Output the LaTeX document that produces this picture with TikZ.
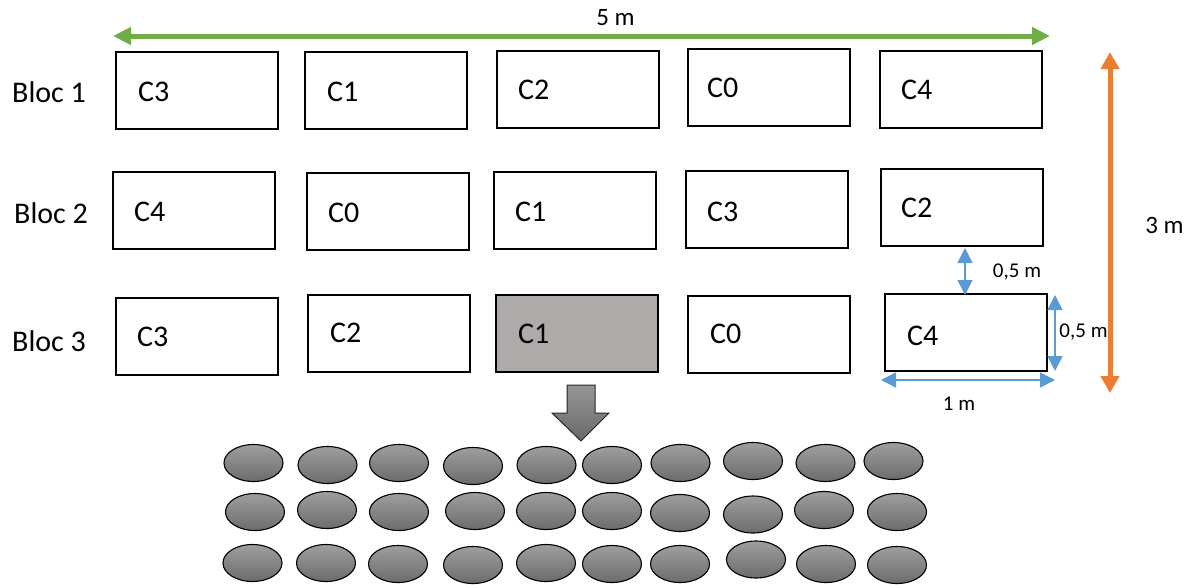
\documentclass[tikz,border=0pt]{standalone}
\usepackage{fontspec}
\setmainfont{Carlito}
\usetikzlibrary{arrows.meta,calc,shapes.geometric}
\definecolor{dgreen}{RGB}{112,173,71}
\definecolor{dorange}{RGB}{237,125,49}
\definecolor{dblue}{RGB}{91,155,213}
\definecolor{cellgray}{RGB}{174,170,169}
\tikzset{
  cell/.style={draw=black, line width=2pt, minimum width=162pt, minimum height=77pt, inner sep=0pt},
  grey/.style={fill=cellgray},
  lab/.style={anchor=west, inner sep=0pt, font=\fontsize{30}{34}\selectfont},
  bloc/.style={anchor=west, inner sep=0pt, font=\fontsize{30}{34}\selectfont},
  dimsmall/.style={inner sep=0pt, font=\fontsize{21}{25}\selectfont},
  dimbig/.style={inner sep=0pt, font=\fontsize{25}{29}\selectfont},
  plant/.style={ellipse, draw=black, line width=1.1pt, minimum width=59pt, minimum height=37pt, inner sep=0pt,
    top color={rgb,255:red,158;green,158;blue,158}, bottom color={rgb,255:red,108;green,108;blue,108}},
  greenarr/.style={draw=dgreen, line width=5pt, {Triangle[length=18pt,width=17pt]}-{Triangle[length=18pt,width=17pt]}},
  orangearr/.style={draw=dorange, line width=5pt, {Triangle[length=17pt,width=18pt]}-{Triangle[length=17pt,width=18pt]}},
  bluearr/.style={draw=dblue, line width=1.5pt, {Triangle[length=15pt,width=15pt]}-{Triangle[length=15pt,width=15pt]}},
}
\begin{document}
\begin{tikzpicture}[x=1pt,y=-1pt]
\useasboundingbox (0,0) rectangle (1192,584);
% row 1
\node[cell] (r1c1) at (197,90.5) {};
\node[cell] (r1c2) at (386,90) {};
\node[cell] (r1c3) at (578,89.5) {};
\node[cell] (r1c4) at (769,87.5) {};
\node[cell] (r1c5) at (961,89) {};
% row 2
\node[cell] (r2c1) at (194,210.5) {};
\node[cell] (r2c2) at (387.5,211.5) {};
\node[cell] (r2c3) at (574.5,210) {};
\node[cell] (r2c4) at (766.5,209.5) {};
\node[cell] (r2c5) at (961.5,207.5) {};
% row 3
\node[cell] (r3c1) at (197,336) {};
\node[cell] (r3c2) at (389,333.5) {};
\node[cell,grey] (r3c3) at (577,333.5) {};
\node[cell] (r3c4) at (769,334) {};
\node[cell] (r3c5) at (965.5,332.5) {};
% labels
\node[bloc] (b1) at (12,92) {Bloc 1};
\node[bloc] (b2) at (14,213) {Bloc 2};
\node[bloc] (b3) at (12,341) {Bloc 3};
\node[lab] (t11) at (138,92) {C3};
\node[lab] (t12) at (327,92) {C1};
\node[lab] (t13) at (518,90) {C2};
\node[lab] (t14) at (707,88) {C0};
\node[lab] (t15) at (901,90) {C4};
\node[lab] (t21) at (134,212) {C4};
\node[lab] (t22) at (328,213) {C0};
\node[lab] (t23) at (515,212) {C1};
\node[lab] (t24) at (707,212) {C3};
\node[lab] (t25) at (901,208) {C2};
\node[lab] (t31) at (137,337) {C3};
\node[lab] (t32) at (330,333) {C2};
\node[lab] (t33) at (518,334) {C1};
\node[lab] (t34) at (710,334) {C0};
\node[lab] (t35) at (907,336) {C4};
% dimension arrows
\coordinate (gL) at (113,36);
\coordinate (gR) at (1050,36);
\draw[greenarr] (gL) -- (gR);
\node[dimbig] (five) at (615.5,18) {5 m};
\coordinate (oT) at (1110,52);
\coordinate (oB) at (1110,393);
\draw[orangearr] (oT) -- (oB);
\node[dimbig] (three) at (1164.5,225) {3 m};
\coordinate (v1T) at (965,248);
\coordinate (v1B) at (965,295);
\draw[bluearr] (v1T) -- (v1B);
\node[dimsmall] (half1) at (1017,272) {0,5 m};
\coordinate (v2T) at (1055,295);
\coordinate (v2B) at (1055,371);
\draw[bluearr] (v2T) -- (v2B);
\node[dimsmall] (half2) at (1083.5,332) {0,5 m};
\coordinate (hL) at (881,380);
\coordinate (hR) at (1055,380);
\draw[bluearr] (hL) -- (hR);
\node[dimsmall] (one) at (959,404) {1 m};
% block arrow
\draw[line width=1pt, draw=black!85, top color={rgb,255:red,150;green,150;blue,150}, bottom color={rgb,255:red,105;green,105;blue,105}]
  (567,385) -- (595,385) -- (595,413) -- (609,413) -- (581,441) -- (552,413) -- (567,413) -- cycle;
% plants
\node[plant] (p11) at (253.5,463) {};
\node[plant] (p12) at (327.5,465) {};
\node[plant] (p13) at (399,463) {};
\node[plant] (p14) at (473,466) {};
\node[plant] (p15) at (546.5,465) {};
\node[plant] (p16) at (612,465) {};
\node[plant] (p17) at (680.5,463) {};
\node[plant] (p18) at (753,461) {};
\node[plant] (p19) at (825.5,463) {};
\node[plant] (p110) at (893.5,461) {};
\node[plant] (p21) at (255,512) {};
\node[plant] (p22) at (327,510) {};
\node[plant] (p23) at (399,512) {};
\node[plant] (p24) at (475,511) {};
\node[plant] (p25) at (546,511) {};
\node[plant] (p26) at (612,511) {};
\node[plant] (p27) at (680,513) {};
\node[plant] (p28) at (753,514.5) {};
\node[plant] (p29) at (824,510) {};
\node[plant] (p210) at (897,512) {};
\node[plant] (p31) at (252.5,563) {};
\node[plant] (p32) at (326,563) {};
\node[plant] (p33) at (398,564) {};
\node[plant] (p34) at (473,565) {};
\node[plant] (p35) at (546,563) {};
\node[plant] (p36) at (612,564) {};
\node[plant] (p37) at (680,564) {};
\node[plant] (p38) at (756,559.5) {};
\node[plant] (p39) at (826,564) {};
\node[plant] (p310) at (897,565) {};
\end{tikzpicture}
\end{document}
